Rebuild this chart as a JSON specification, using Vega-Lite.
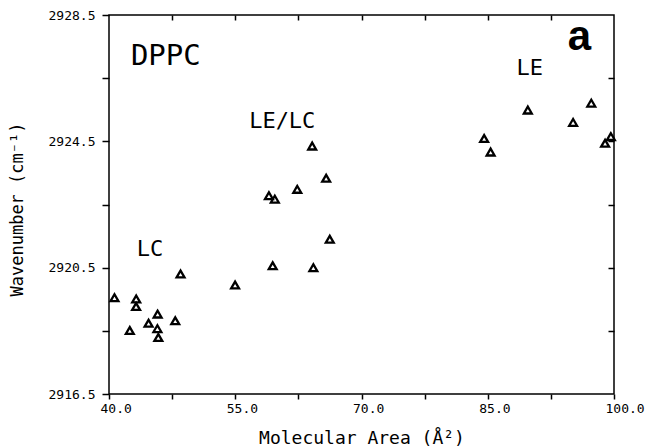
{
  "$schema": "https://vega.github.io/schema/vega-lite/v6.json",
  "autosize": "none",
  "width": 505,
  "height": 379,
  "padding": {"left": 109, "top": 15, "right": 35, "bottom": 54},
  "background": "white",
  "config": {
    "view": {"stroke": "black", "strokeWidth": 1.5},
    "font": "DejaVu Sans Mono",
    "axis": {
      "domain": false,
      "grid": false,
      "tickColor": "black",
      "tickWidth": 1.5,
      "labelColor": "black",
      "labelFont": "DejaVu Sans Mono",
      "labelFontSize": 13,
      "titleFont": "DejaVu Sans Mono",
      "titleFontSize": 17,
      "titleFontWeight": "normal",
      "titleColor": "black"
    }
  },
  "datasets": {
    "dppc": [
      {"area": 40.65, "wn": 2919.55},
      {"area": 42.47, "wn": 2918.51},
      {"area": 43.23, "wn": 2919.51},
      {"area": 43.22, "wn": 2919.27},
      {"area": 44.70, "wn": 2918.74},
      {"area": 45.78, "wn": 2919.03},
      {"area": 45.75, "wn": 2918.57},
      {"area": 45.86, "wn": 2918.29},
      {"area": 47.87, "wn": 2918.82},
      {"area": 48.50, "wn": 2920.30},
      {"area": 54.98, "wn": 2919.95},
      {"area": 59.45, "wn": 2920.56},
      {"area": 64.28, "wn": 2920.50},
      {"area": 66.23, "wn": 2921.40},
      {"area": 64.14, "wn": 2924.35},
      {"area": 65.80, "wn": 2923.33},
      {"area": 62.37, "wn": 2922.98},
      {"area": 59.00, "wn": 2922.78},
      {"area": 59.70, "wn": 2922.67},
      {"area": 97.30, "wn": 2925.71},
      {"area": 89.76, "wn": 2925.49},
      {"area": 95.14, "wn": 2925.10},
      {"area": 84.57, "wn": 2924.59},
      {"area": 85.34, "wn": 2924.16},
      {"area": 98.94, "wn": 2924.44},
      {"area": 99.63, "wn": 2924.65}
    ],
    "phases": [
      {"area": 43.3, "wn": 2920.87, "label": "LC"},
      {"area": 56.65, "wn": 2924.92, "label": "LE/LC"},
      {"area": 88.43, "wn": 2926.60, "label": "LE"}
    ],
    "sample": [
      {"area": 42.6, "wn": 2926.92, "label": "DPPC"}
    ],
    "panel": [
      {"area": 95.88, "wn": 2927.39, "label": "a"}
    ]
  },
  "layer": [
    {
      "data": {"name": "dppc"},
      "mark": {"type": "point", "shape": "triangle-up", "filled": false, "stroke": "black", "strokeWidth": 2.3, "size": 62, "opacity": 1},
      "encoding": {
        "x": {
          "field": "area", "type": "quantitative",
          "scale": {"domain": [40, 100], "nice": false, "zero": false},
          "axis": {
            "orient": "bottom",
            "title": "Molecular Area (Å²)",
            "values": [40, 47.5, 55, 62.5, 70, 77.5, 85, 92.5, 100],
            "labelExpr": "datum.value % 15 == 10 ? format(datum.value, '.1f') : ''",
            "tickSize": 5,
            "labelAlign": "left",
            "labelOffset": -9,
            "labelPadding": 3,
            "labelFlush": false,
            "labelOverlap": false,
            "titleFontSize": 18,
            "titleBaseline": "alphabetic",
            "titleY": 49
          }
        },
        "y": {
          "field": "wn", "type": "quantitative",
          "scale": {"domain": [2916.5, 2928.5], "nice": false, "zero": false},
          "axis": {
            "orient": "left",
            "title": "Wavenumber (cm⁻¹)",
            "values": [2916.5, 2918.5, 2920.5, 2922.5, 2924.5, 2926.5, 2928.5],
            "labelExpr": "(datum.value - 2916.5) % 4 == 0 ? format(datum.value, '.1f') : ''",
            "tickSize": 7,
            "labelPadding": 7,
            "labelFlush": false,
            "labelOverlap": false,
            "titleAngle": -90,
            "titleBaseline": "alphabetic",
            "titleAlign": "center",
            "titleX": -87,
            "titleY": 194
          }
        }
      }
    },
    {
      "data": {"name": "phases"},
      "mark": {"type": "text", "align": "left", "baseline": "alphabetic", "font": "DejaVu Sans Mono", "fontSize": 22, "color": "black"},
      "encoding": {
        "x": {"field": "area", "type": "quantitative", "axis": null},
        "y": {"field": "wn", "type": "quantitative", "axis": null},
        "text": {"field": "label"}
      }
    },
    {
      "data": {"name": "sample"},
      "mark": {"type": "text", "align": "left", "baseline": "alphabetic", "font": "DejaVu Sans Mono", "fontSize": 29, "color": "black"},
      "encoding": {
        "x": {"field": "area", "type": "quantitative", "axis": null},
        "y": {"field": "wn", "type": "quantitative", "axis": null},
        "text": {"field": "label"}
      }
    },
    {
      "data": {"name": "panel"},
      "mark": {"type": "text", "align": "center", "baseline": "alphabetic", "font": "Liberation Sans", "fontWeight": "bold", "fontSize": 42, "color": "black"},
      "encoding": {
        "x": {
          "field": "area", "type": "quantitative",
          "axis": {
            "orient": "top", "title": null, "labels": false,
            "values": [47.5, 55, 62.5, 70, 77.5, 85, 92.5],
            "tickSize": -5
          }
        },
        "y": {
          "field": "wn", "type": "quantitative",
          "axis": {
            "orient": "right", "title": null, "labels": false,
            "values": [2918.5, 2920.5, 2922.5, 2924.5, 2926.5],
            "tickSize": -6
          }
        },
        "text": {"field": "label"}
      }
    }
  ],
  "resolve": {"axis": {"x": "independent", "y": "independent"}}
}
